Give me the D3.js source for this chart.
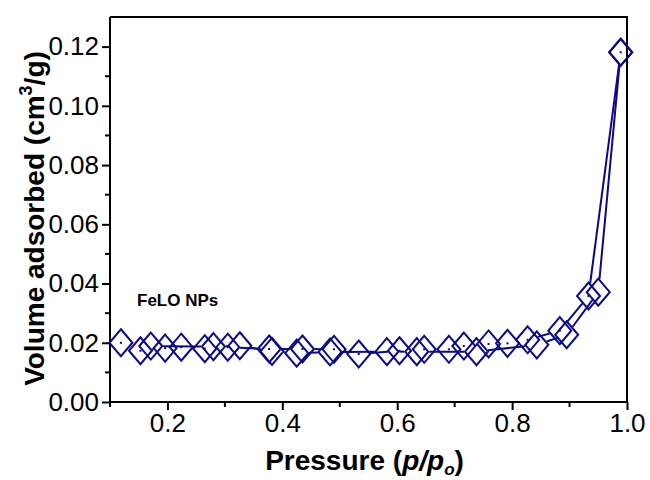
<!DOCTYPE html>
<html>
<head>
<meta charset="utf-8">
<script src="https://cdn.jsdelivr.net/npm/d3@7"></script>
<style>
  body { margin: 0; background: #fff; }
  svg { font-family: "Liberation Sans", Arial, sans-serif; }
</style>
</head>
<body>
<svg id="chart" width="650" height="480"></svg>
<script>
var adsP = [0.119, 0.153, 0.196, 0.224, 0.265, 0.305, 0.377, 0.435, 0.490, 0.533, 0.604,
    0.647, 0.690, 0.716, 0.759, 0.792, 0.827, 0.883, 0.933, 0.989];
var adsV = [0.0200, 0.0173, 0.0182, 0.0185, 0.0180, 0.0185, 0.0179, 0.0179, 0.0178, 0.0162, 0.0173,
    0.0178, 0.0178, 0.0189, 0.0196, 0.0198, 0.0210, 0.0241, 0.0358, 0.1181];

var desP = [0.989, 0.950, 0.895, 0.843, 0.738, 0.634, 0.582, 0.483, 0.425, 0.382, 0.326, 0.280, 0.171];
var desV = [0.1181, 0.0371, 0.0227, 0.0193, 0.0170, 0.0170, 0.0170, 0.0169, 0.0165, 0.0171, 0.0190, 0.0187, 0.0189];

var xTicks = [0.2, 0.4, 0.6, 0.8, 1.0];
var xMinor = [0.1, 0.3, 0.5, 0.7, 0.9];
var yTicks = [0.00, 0.02, 0.04, 0.06, 0.08, 0.10, 0.12];
var yMinor = [0.01, 0.03, 0.05, 0.07, 0.09, 0.11];

var navy = "#0a0a85";
var hw = 11.5, hh = 13.5; // diamond half width / height

var svg = d3.select("#chart");

var x = d3.scaleLinear().domain([0.1, 1.0]).range([110, 627]);
var y = d3.scaleLinear().domain([0, 0.13]).range([402, 17]);

// frame (top + right)
svg.append("path")
    .attr("d", "M" + x(0.1) + "," + y(0.13) + "H" + x(1.0) + "V" + y(0))
    .attr("fill", "none")
    .attr("stroke", "#000")
    .attr("stroke-width", 2);

// axes
var xAxis = d3.axisBottom(x).tickValues(xTicks).tickSize(8).tickPadding(4).tickFormat(d3.format(".1f"));
var yAxis = d3.axisLeft(y).tickValues(yTicks).tickSize(8).tickPadding(3).tickFormat(d3.format(".2f"));

var gx = svg.append("g").attr("transform", "translate(0," + y(0) + ")").call(xAxis);
var gy = svg.append("g").attr("transform", "translate(" + x(0.1) + ",0)").call(yAxis);

[gx, gy].forEach(function (g) {
    g.select(".domain").attr("stroke-width", 2);
    g.selectAll(".tick line").attr("stroke-width", 2);
    g.selectAll(".tick text").style("font-size", "26px").attr("fill", "#000");
});
gx.select(".domain").attr("d", "M" + x(0.1) + ",0H" + x(1.0));
gy.select(".domain").attr("d", "M0," + y(0) + "V" + y(0.13));

// minor ticks
svg.append("g").selectAll("line").data(xMinor).enter().append("line")
    .attr("x1", function (d) { return x(d); }).attr("x2", function (d) { return x(d); })
    .attr("y1", y(0)).attr("y2", y(0) + 5)
    .attr("stroke", "#000").attr("stroke-width", 2);
svg.append("g").selectAll("line").data(yMinor).enter().append("line")
    .attr("y1", function (d) { return y(d); }).attr("y2", function (d) { return y(d); })
    .attr("x1", x(0.1)).attr("x2", x(0.1) - 5)
    .attr("stroke", "#000").attr("stroke-width", 2);

// axis titles
var yt = svg.append("text")
    .attr("transform", "translate(44," + ((y(0) + y(0.13)) / 2 + 9) + ") rotate(-90)")
    .attr("text-anchor", "middle")
    .style("font-size", "28px").style("font-weight", "bold");
yt.append("tspan").text("Volume adsorbed (cm");
yt.append("tspan").text("3").style("font-size", "18px").attr("dy", -12);
yt.append("tspan").text("/g)").attr("dy", 12);

var xt = svg.append("text")
    .attr("x", (x(0.1) + x(1.0)) / 2 - 4).attr("y", 470)
    .attr("text-anchor", "middle")
    .style("font-size", "28px").style("font-weight", "bold");
xt.append("tspan").text("Pressure (");
xt.append("tspan").text("p/p").style("font-style", "italic");
xt.append("tspan").text("o").style("font-style", "italic").style("font-size", "17px").attr("dy", 5);
xt.append("tspan").text(")").attr("dy", -5);

svg.append("text")
    .attr("x", 137).attr("y", 306)
    .style("font-size", "17px").style("font-weight", "bold")
    .text("FeLO NPs");

// connecting lines with a gap at each symbol
function gapLines(P, V) {
    var segs = [];
    for (var i = 0; i < P.length - 1; i++) {
        var x1 = x(P[i]), y1 = y(V[i]), x2 = x(P[i + 1]), y2 = y(V[i + 1]);
        var dx = x2 - x1, dy = y2 - y1, len = Math.sqrt(dx * dx + dy * dy);
        var ux = dx / len, uy = dy / len;
        var t = 1 / (Math.abs(ux) / hw + Math.abs(uy) / hh) + 1;
        if (len > 2 * t + 1) {
            segs.push([x1 + ux * t, y1 + uy * t, x2 - ux * t, y2 - uy * t]);
        }
    }
    return segs;
}

function diamond(d) {
    return "M0," + (-hh) + "L" + hw + ",0L0," + hh + "L" + (-hw) + ",0Z";
}

function drawSeries(P, V, dotted) {
    var g = svg.append("g");
    g.selectAll("line").data(gapLines(P, V)).enter().append("line")
        .attr("x1", function (d) { return d[0]; }).attr("y1", function (d) { return d[1]; })
        .attr("x2", function (d) { return d[2]; }).attr("y2", function (d) { return d[3]; })
        .attr("stroke", navy).attr("stroke-width", 2);
    var pts = g.selectAll("g.pt").data(P).enter().append("g")
        .attr("transform", function (d, i) { return "translate(" + x(d) + "," + y(V[i]) + ")"; });
    pts.append("path").attr("d", diamond)
        .attr("fill", "none").attr("stroke", navy).attr("stroke-width", 2);
    if (dotted) {
        pts.append("rect").attr("x", -1).attr("y", -1).attr("width", 2).attr("height", 2).attr("fill", navy);
    }
}

drawSeries(desP, desV, false);
drawSeries(adsP, adsV, true);
</script>
</body>
</html>
